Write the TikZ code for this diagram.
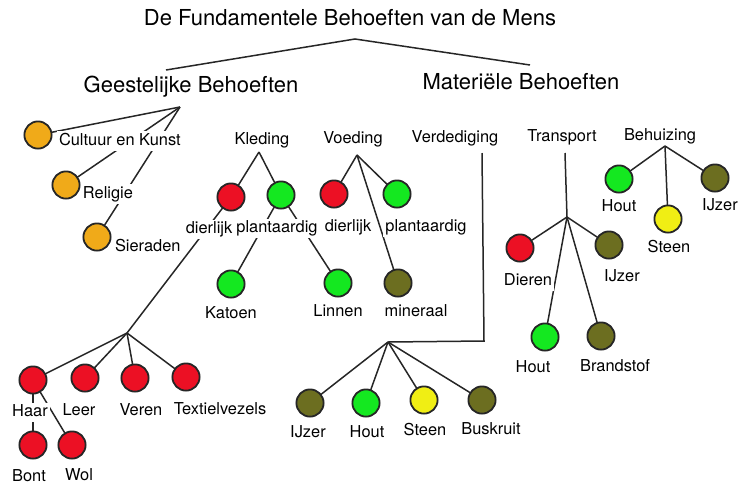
\documentclass[tikz,border=0pt]{standalone}
\usepackage{fontspec}
\setmainfont{TeX Gyre Heros}
\definecolor{spirit}{RGB}{240,170,25}
\definecolor{animal}{RGB}{236,16,36}
\definecolor{plant}{RGB}{20,232,32}
\definecolor{metal}{RGB}{108,110,32}
\definecolor{stone}{RGB}{240,238,20}
\usepackage{tikz}
\usetikzlibrary{positioning}

\begin{document}
\begin{tikzpicture}[
  x=0.5pt, y=-0.5pt,
  head/.style={font=\fontsize{11}{13}\selectfont, inner sep=1pt},
  cat/.style={font=\fontsize{8.2}{10}\selectfont, inner sep=1pt},
  lbl/.style={cat, fill=white, text height=6pt, text depth=1.7pt},
  need/.style={circle, draw=black!85, line width=0.9pt, minimum size=13.6pt,
               inner sep=0pt, outer sep=0pt},
  link/.style={line width=0.75pt, black!85}
]
\useasboundingbox (0,0) rectangle (739,483);

% Heading
\node[head] (title) at (350,18) {De Fundamentele Behoeften van de Mens};
\coordinate (split) at (355,39);
\node[head] (geest) at (191,87) {Geestelijke Behoeften};
\node[head] (mat) at (521,82) {Materiële Behoeften};
\coordinate (geest-in) at (166,70);
\coordinate (mat-in) at (530,65);
\draw[link] (geest-in) -- (split) -- (mat-in);

% Geestelijke behoeften
\coordinate (g) at (180,107);
\node[need, fill=spirit] (cultuur) at (38,135) {};
\node[need, fill=spirit] (religie) at (66,185) {};
\node[need, fill=spirit] (sieraden) at (97,237) {};

% Kleding
\node[cat] (kleding) at (262,140) {Kleding};
\coordinate (kl) at (259,152);
\node[need, fill=animal] (kldier) at (231,197) {};
\node[need, fill=plant] (klplant) at (281,195) {};
\node[need, fill=plant] (katoen) at (231,284) {};
\node[need, fill=plant] (linnen) at (338,283) {};
\coordinate (vezel) at (127,333);
\node[need, fill=animal] (haar) at (33,380) {};
\node[need, fill=animal] (leer) at (85,378) {};
\node[need, fill=animal] (veren) at (135,378) {};
\node[need, fill=animal] (textiel) at (186,377) {};
\node[need, fill=animal] (bont) at (33,445) {};
\node[need, fill=animal] (wol) at (72,445) {};

% Voeding
\node[cat] (voeding) at (353,139) {Voeding};
\coordinate (vo) at (357,155);
\node[need, fill=animal] (vodier) at (334,194) {};
\node[need, fill=plant] (voplant) at (397,194) {};
\node[need, fill=metal] (mineraal) at (398,283) {};

% Verdediging
\node[cat] (verdediging) at (455,138) {Verdediging};
\coordinate (vd-top) at (482,153);
\coordinate (vd-bend) at (484,341);
\coordinate (vd) at (388,342);
\node[need, fill=metal] (vdijzer) at (310,403) {};
\node[need, fill=plant] (vdhout) at (366,403) {};
\node[need, fill=stone] (vdsteen) at (424,400) {};
\node[need, fill=metal] (buskruit) at (482,400) {};

% Transport
\node[cat] (transport) at (562,137) {Transport};
\coordinate (tr-top) at (565,153);
\coordinate (tr) at (567,217);
\node[need, fill=animal] (dieren) at (520,248) {};
\node[need, fill=metal] (trijzer) at (609,245) {};
\node[need, fill=plant] (trhout) at (545,337) {};
\node[need, fill=metal] (brandstof) at (601,336) {};

% Behuizing
\node[cat] (behuizing) at (660,136) {Behuizing};
\coordinate (bh) at (665,146);
\node[need, fill=plant] (bhhout) at (619,179) {};
\node[need, fill=stone] (bhsteen) at (668,219) {};
\node[need, fill=metal] (bhijzer) at (715,178) {};

% Links
\draw[link] (g) -- (cultuur);
\draw[link] (g) -- (religie);
\draw[link] (g) -- (sieraden);
\draw[link] (kl) -- (kldier);
\draw[link] (kl) -- (klplant);
\draw[link] (klplant) -- (katoen);
\draw[link] (klplant) -- (linnen);
\draw[link] (kldier) -- (vezel);
\draw[link] (vezel) -- (haar);
\draw[link] (vezel) -- (leer);
\draw[link] (vezel) -- (veren);
\draw[link] (vezel) -- (textiel);
\draw[link] (haar) -- (bont);
\draw[link] (haar) -- (wol);
\draw[link] (vo) -- (vodier);
\draw[link] (vo) -- (voplant);
\draw[link] (vo) -- (mineraal);
\draw[link] (vd-top) -- (vd-bend) -- (vd);
\draw[link] (vd) -- (vdijzer);
\draw[link] (vd) -- (vdhout);
\draw[link] (vd) -- (vdsteen);
\draw[link] (vd) -- (buskruit);
\draw[link] (tr-top) -- (tr);
\draw[link] (tr) -- (dieren);
\draw[link] (tr) -- (trijzer);
\draw[link] (tr) -- (trhout);
\draw[link] (tr) -- (brandstof);
\draw[link] (bh) -- (bhhout);
\draw[link] (bh) -- (bhsteen);
\draw[link] (bh) -- (bhijzer);

% Labels
\node[lbl, right=2.5pt of cultuur, yshift=-3pt] (cultuur-l) {Cultuur en Kunst};
\node[lbl, right=0.5pt of religie, yshift=-4.5pt] (religie-l) {Religie};
\node[lbl, right=1pt of sieraden, yshift=-5pt] (sieraden-l) {Sieraden};
\node[lbl, below=4.3pt of kldier, xshift=-11pt] (kldier-l) {dierlijk};
\node[lbl, below=4.8pt of klplant, xshift=-2pt] (klplant-l) {plantaardig};
\node[lbl, below=3.1pt of katoen] (katoen-l) {Katoen};
\node[lbl, below=2.8pt of linnen] (linnen-l) {Linnen};
\node[lbl, below=4.3pt of haar, xshift=-1.5pt] (haar-l) {Haar};
\node[lbl, below=4.8pt of leer, xshift=-3pt] (leer-l) {Leer};
\node[lbl, below=4.6pt of veren, xshift=3pt] (veren-l) {Veren};
\node[lbl, below=4.6pt of textiel, xshift=17pt] (textiel-l) {Textielvezels};
\node[lbl, below=4.1pt of bont, xshift=-2pt] (bont-l) {Bont};
\node[lbl, below=3.8pt of wol, xshift=3.5pt] (wol-l) {Wol};
\node[lbl, below=4.6pt of vodier, xshift=7pt] (vodier-l) {dierlijk};
\node[lbl, below=4.6pt of voplant, xshift=14.5pt] (voplant-l) {plantaardig};
\node[lbl, below=2.8pt of mineraal, xshift=9pt] (mineraal-l) {mineraal};
\node[lbl, below=3.1pt of vdijzer, xshift=-1pt] (vdijzer-l) {IJzer};
\node[lbl, below=3.3pt of vdhout, xshift=0.5pt] (vdhout-l) {Hout};
\node[lbl, below=3.6pt of vdsteen, xshift=0.5pt] (vdsteen-l) {Steen};
\node[lbl, below=3.1pt of buskruit, xshift=4.5pt] (buskruit-l) {Buskruit};
\node[lbl, below=4.6pt of dieren, xshift=4pt] (dieren-l) {Dieren};
\node[lbl, below=4.3pt of trijzer, xshift=6.5pt] (trijzer-l) {IJzer};
\node[lbl, below=3.6pt of trhout, xshift=-6pt] (trhout-l) {Hout};
\node[lbl, below=3.8pt of brandstof, xshift=7pt] (brandstof-l) {Brandstof};
\node[lbl, below=2.1pt of bhhout] (bhhout-l) {Hout};
\node[lbl, below=2.8pt of bhsteen, xshift=0.5pt] (bhsteen-l) {Steen};
\node[lbl, below=2.1pt of bhijzer, xshift=2.5pt] (bhijzer-l) {IJzer};

\end{tikzpicture}
\end{document}
